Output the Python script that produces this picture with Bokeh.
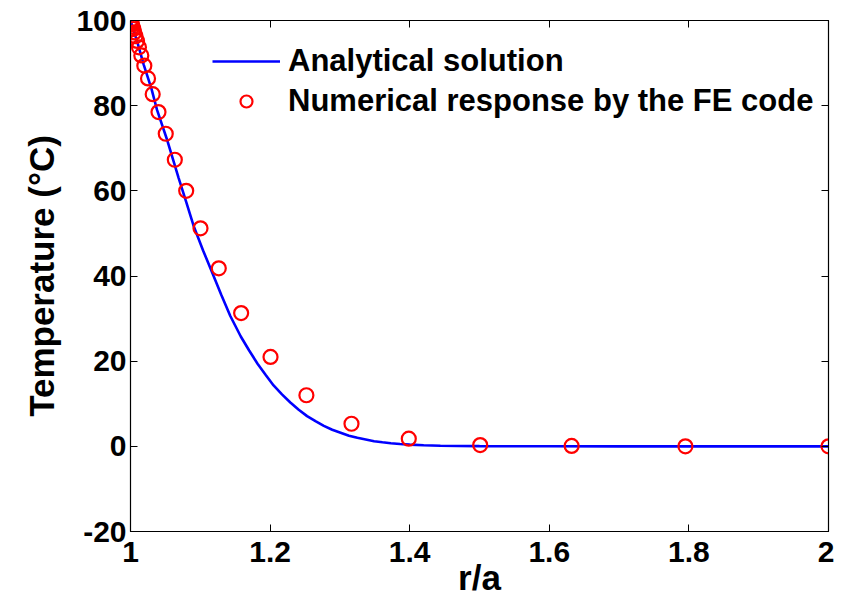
from bokeh.plotting import figure
from bokeh.models import LinearAxis, Range1d, Legend, LegendItem, FixedTicker
from bokeh.embed import file_html
from bokeh.resources import INLINE

# Analytical solution
ana_x = [1.000, 1.010, 1.019, 1.030, 1.038, 1.053, 1.069, 1.080, 1.091, 1.104, 1.117,
         1.130, 1.143, 1.158, 1.170, 1.182, 1.194, 1.205, 1.217, 1.229, 1.241, 1.253,
         1.265, 1.277, 1.289, 1.301, 1.313, 1.325, 1.337, 1.349, 1.361, 1.373, 1.386,
         1.400, 1.420, 1.444, 1.470, 1.500, 1.550, 1.600, 1.700, 1.800, 1.900, 2.000]
ana_y = [100.0, 94.8, 89.6, 84.0, 79.0, 71.7, 63.0, 57.3, 51.5, 46.0, 40.8,
         35.6, 30.6, 25.8, 22.5, 19.4, 16.7, 14.3, 12.2, 10.3, 8.6, 7.1,
         5.9, 4.8, 3.9, 3.2, 2.5, 2.0, 1.6, 1.2, 0.95, 0.72, 0.55,
         0.40, 0.26, 0.15, 0.09, 0.05, 0.02, 0.01, 0.0, 0.0, 0.0, 0.0]

# Numerical response by the FE code
fe_x = [1.0000, 1.0007, 1.0013, 1.0021, 1.0030, 1.0041, 1.0055, 1.0072, 1.0094,
        1.0121, 1.0155, 1.0198, 1.0251, 1.0318, 1.0401, 1.0505, 1.0635, 1.0798,
        1.1003, 1.1265, 1.1585, 1.2006, 1.2520, 1.3166, 1.3987, 1.5010, 1.6320,
        1.7950, 2.0000]
fe_y = [100.0, 99.7, 99.4, 99.0, 98.5, 98.0, 97.2, 96.3, 95.2,
        93.7, 91.8, 89.4, 86.4, 82.7, 78.5, 73.4, 67.3, 60.0,
        51.2, 41.8, 31.3, 21.0, 12.0, 5.3, 1.8, 0.3, 0.1,
        0.0, 0.0]

x_ticks = [1.0, 1.2, 1.4, 1.6, 1.8, 2.0]
y_ticks = [-20, 0, 20, 40, 60, 80, 100]
x_tick_labels = {1.0: "1", 1.2: "1.2", 1.4: "1.4", 1.6: "1.6", 1.8: "1.8", 2.0: "2"}
y_tick_labels = {-20: "-20", 0: "0", 20: "20", 40: "40", 60: "60", 80: "80", 100: "100"}

FONT = "Liberation Sans"

p = figure(width=834, height=599, output_backend="svg", toolbar_location=None,
           x_range=Range1d(1, 2), y_range=Range1d(-20, 100),
           min_border_left=130, min_border_right=6, min_border_top=20, min_border_bottom=10)
p.xgrid.visible = False
p.ygrid.visible = False
p.outline_line_color = "black"
p.outline_line_width = 1.2
p.background_fill_color = "white"
p.border_fill_color = "white"

r_line = p.line(ana_x, ana_y, line_color="#0000ff", line_width=2.6)
r_circ = p.scatter(fe_x, fe_y, marker="circle", size=14, fill_color=None,
                   line_color="#ff0000", line_width=2.2)

def style_axis(ax, ticks):
    ax.ticker = FixedTicker(ticks=ticks)
    ax.minor_tick_line_color = None
    ax.major_tick_in = 7
    ax.major_tick_out = 0
    ax.axis_line_color = "black"
    ax.major_tick_line_color = "black"
    ax.major_label_text_font = FONT
    ax.major_label_text_font_style = "bold"
    ax.major_label_text_color = "black"
    ax.major_label_text_font_size = "30px"
    ax.axis_label_text_font = FONT
    ax.axis_label_text_font_style = "bold"
    ax.axis_label_text_color = "black"
    ax.axis_label_text_font_size = "35px"

xa = p.xaxis[0]
ya = p.yaxis[0]
style_axis(xa, x_ticks)
style_axis(ya, y_ticks)
xa.major_label_overrides = x_tick_labels
ya.major_label_overrides = y_tick_labels
xa.axis_label = "r/a"
ya.axis_label = "Temperature (°C)"
xa.major_label_standoff = 10
xa.axis_label_standoff = -7
ya.major_label_standoff = 4
ya.axis_label_standoff = 12

top = LinearAxis()
style_axis(top, x_ticks)
top.major_label_overrides = {t: "" for t in x_ticks}
top.major_label_standoff = 0
top.major_label_text_font_size = "1px"
p.add_layout(top, "above")
right = LinearAxis()
style_axis(right, y_ticks)
right.major_label_overrides = {t: "" for t in y_ticks}
right.major_label_standoff = 0
right.major_label_text_font_size = "1px"
p.add_layout(right, "right")

legend = Legend(items=[LegendItem(label="Analytical solution", renderers=[r_line]),
                       LegendItem(label="Numerical response by the FE code", renderers=[r_circ])],
                location=(82, 412), padding=0, margin=0, spacing=4,
                glyph_width=68, glyph_height=30, label_height=30, label_standoff=8,
                border_line_color=None, background_fill_alpha=0,
                label_text_font=FONT, label_text_font_style="bold",
                label_text_font_size="31px", label_text_color="black")
p.add_layout(legend)

open("out.html", "w").write(file_html(p, INLINE))
